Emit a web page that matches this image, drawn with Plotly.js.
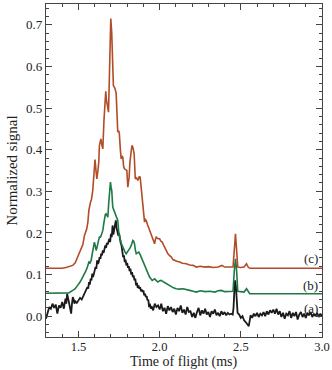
<!DOCTYPE html>
<html><head><meta charset="utf-8">
<script src="https://cdn.plot.ly/plotly-3.0.1.min.js"></script>
<style>html,body{margin:0;padding:0;background:#fff}#chart{width:332px;height:370px}</style>
</head><body><div id="chart"></div>
<script>
// Series (c) - red
const cX = [1.30,1.35,1.40,1.423,1.445,1.465,1.48,1.495,1.505,1.516,1.527,1.537,1.551,1.558,1.564,1.574,1.58,1.588,1.598,1.602,1.608,1.613,1.62,1.625,1.629,1.634,1.638,1.645,1.650,1.657,1.664,1.668,1.672,1.68,1.685,1.692,1.699,1.705,1.711,1.715,1.724,1.732,1.737,1.742,1.748,1.752,1.758,1.763,1.768,1.773,1.778,1.783,1.79,1.798,1.804,1.808,1.812,1.817,1.823,1.829,1.835,1.843,1.85,1.858,1.866,1.874,1.88,1.888,1.897,1.902,1.907,1.912,1.917,1.925,1.932,1.938,1.946,1.954,1.962,1.969,1.974,1.979,1.99,2.0,2.008,2.016,2.023,2.03,2.04,2.051,2.06,2.072,2.082,2.092,2.105,2.123,2.14,2.164,2.185,2.206,2.226,2.25,2.28,2.30,2.33,2.36,2.384,2.40,2.43,2.452,2.46,2.467,2.474,2.481,2.50,2.52,2.535,2.545,2.555,3.0];
const cY = [0.115,0.115,0.115,0.117,0.119,0.122,0.128,0.142,0.148,0.158,0.172,0.194,0.21,0.226,0.254,0.274,0.28,0.302,0.342,0.376,0.35,0.33,0.35,0.37,0.41,0.42,0.426,0.41,0.402,0.47,0.536,0.54,0.52,0.50,0.49,0.6,0.715,0.68,0.56,0.554,0.548,0.536,0.49,0.442,0.446,0.438,0.40,0.378,0.385,0.382,0.36,0.354,0.352,0.35,0.31,0.32,0.334,0.37,0.402,0.41,0.406,0.39,0.33,0.332,0.326,0.335,0.334,0.3,0.27,0.245,0.226,0.232,0.23,0.22,0.212,0.206,0.198,0.19,0.18,0.174,0.185,0.19,0.186,0.186,0.18,0.178,0.172,0.166,0.158,0.15,0.146,0.142,0.136,0.134,0.132,0.13,0.127,0.126,0.123,0.122,0.118,0.12,0.118,0.119,0.117,0.118,0.122,0.118,0.118,0.118,0.16,0.198,0.16,0.118,0.117,0.118,0.126,0.118,0.115,0.115];

// Series (b) - green
const bX = [1.30,1.40,1.44,1.465,1.48,1.495,1.51,1.526,1.535,1.547,1.555,1.564,1.571,1.578,1.585,1.592,1.598,1.603,1.609,1.614,1.619,1.625,1.629,1.635,1.64,1.645,1.65,1.655,1.66,1.665,1.67,1.676,1.681,1.686,1.691,1.697,1.701,1.705,1.711,1.716,1.722,1.727,1.732,1.737,1.742,1.749,1.757,1.763,1.769,1.775,1.78,1.787,1.794,1.802,1.81,1.818,1.825,1.835,1.84,1.845,1.85,1.856,1.864,1.872,1.88,1.886,1.897,1.907,1.917,1.928,1.938,1.946,1.954,1.962,1.969,1.978,1.989,2.0,2.01,2.025,2.04,2.055,2.072,2.085,2.102,2.12,2.144,2.165,2.185,2.206,2.226,2.25,2.28,2.31,2.34,2.36,2.38,2.40,2.43,2.452,2.46,2.467,2.474,2.481,2.50,2.52,2.535,2.545,2.555,3.0];
const bY = [0.055,0.055,0.056,0.062,0.066,0.074,0.082,0.094,0.10,0.11,0.118,0.13,0.128,0.134,0.15,0.162,0.178,0.17,0.158,0.165,0.178,0.184,0.19,0.19,0.194,0.198,0.206,0.22,0.238,0.244,0.246,0.24,0.238,0.27,0.302,0.322,0.31,0.302,0.262,0.256,0.25,0.244,0.238,0.234,0.23,0.198,0.182,0.176,0.17,0.164,0.158,0.154,0.15,0.154,0.158,0.164,0.17,0.182,0.18,0.174,0.16,0.15,0.152,0.154,0.148,0.142,0.13,0.12,0.11,0.102,0.094,0.09,0.086,0.088,0.09,0.086,0.082,0.085,0.086,0.082,0.078,0.074,0.07,0.068,0.066,0.065,0.066,0.063,0.062,0.06,0.058,0.061,0.059,0.06,0.058,0.061,0.062,0.059,0.06,0.06,0.11,0.138,0.11,0.06,0.059,0.058,0.066,0.058,0.054,0.054];

// Series (a) - black
const aX = [1.30,1.31,1.32,1.33,1.34,1.35,1.36,1.37,1.38,1.39,1.40,1.41,1.42,1.425,1.43,1.44,1.45,1.455,1.46,1.465,1.47,1.475,1.48,1.49,1.50,1.51,1.52,1.53,1.54,1.55,1.555,1.56,1.565,1.57,1.575,1.58,1.585,1.59,1.595,1.60,1.605,1.61,1.615,1.62,1.625,1.63,1.635,1.64,1.645,1.65,1.655,1.66,1.665,1.67,1.675,1.68,1.685,1.69,1.695,1.70,1.705,1.71,1.715,1.72,1.725,1.73,1.735,1.74,1.745,1.75,1.755,1.76,1.765,1.77,1.775,1.78,1.785,1.79,1.795,1.80,1.805,1.81,1.815,1.82,1.825,1.83,1.835,1.84,1.845,1.85,1.855,1.86,1.865,1.87,1.875,1.88,1.885,1.89,1.895,1.90,1.905,1.91,1.915,1.92,1.925,1.93,1.935,1.94,1.945,1.95,1.96,1.97,1.98,1.99,2.00,2.01,2.02,2.03,2.04,2.05,2.06,2.07,2.08,2.09,2.10,2.11,2.12,2.13,2.14,2.15,2.16,2.17,2.18,2.19,2.20,2.21,2.22,2.23,2.24,2.25,2.26,2.27,2.28,2.29,2.30,2.31,2.32,2.33,2.34,2.35,2.36,2.37,2.38,2.39,2.40,2.41,2.42,2.43,2.44,2.45,2.455,2.46,2.465,2.47,2.475,2.48,2.49,2.50,2.51,2.52,2.53,2.54,2.549,2.555,2.56,2.57,2.58,2.59,2.60,2.61,2.62,2.63,2.64,2.65,2.66,2.67,2.68,2.69,2.70,2.71,2.72,2.73,2.74,2.75,2.76,2.77,2.78,2.79,2.80,2.81,2.82,2.83,2.84,2.85,2.86,2.87,2.88,2.89,2.90,2.91,2.92,2.93,2.94,2.95,2.96,2.97,2.98,2.99,3.00];
const aY = [-0.006,0.01,0.022,0.018,0.03,0.02,0.028,0.006,0.026,0.02,0.034,0.018,0.042,0.03,0.054,0.036,0.012,0.006,0.03,0.046,0.04,0.03,0.036,0.032,0.038,0.044,0.04,0.048,0.056,0.062,0.07,0.066,0.082,0.076,0.09,0.086,0.102,0.094,0.108,0.11,0.118,0.114,0.134,0.126,0.13,0.142,0.138,0.15,0.146,0.158,0.152,0.162,0.17,0.164,0.176,0.172,0.18,0.186,0.178,0.198,0.19,0.218,0.196,0.212,0.222,0.23,0.212,0.204,0.194,0.2,0.182,0.176,0.17,0.15,0.142,0.146,0.13,0.136,0.122,0.128,0.116,0.12,0.108,0.114,0.1,0.106,0.094,0.098,0.086,0.09,0.074,0.08,0.068,0.074,0.066,0.07,0.06,0.064,0.058,0.062,0.05,0.054,0.046,0.048,0.038,0.04,0.022,0.03,0.018,0.024,0.014,0.03,0.022,0.026,0.016,0.03,0.012,0.02,0.006,0.024,0.014,0.022,0.01,0.018,0.004,0.02,0.012,0.026,0.008,0.016,0.004,0.022,0.01,0.012,-0.002,0.008,-0.004,0.01,0.02,0.002,0.014,0.006,0.018,0.004,0.01,-0.002,0.012,0.006,0.016,0.002,0.008,0.0,0.012,0.004,0.01,0.002,0.008,0.004,0.006,0.004,0.02,0.06,0.086,0.07,0.03,0.008,0.004,-0.004,0.0,-0.01,-0.014,-0.018,-0.024,-0.01,0.002,-0.004,0.006,0.0,0.008,-0.002,0.006,0.002,0.01,0.0,0.012,0.004,0.014,0.008,0.016,0.006,0.018,0.004,0.012,-0.002,0.008,-0.006,0.006,0.002,0.012,-0.004,0.008,0.0,0.01,-0.008,0.004,0.01,-0.002,0.006,-0.004,0.008,0.002,0.01,-0.002,0.006,0.0,0.008,-0.002,0.006,0.0];

const labels = ['(a)','(b)','(c)'];
const labelY = [0.019,0.074,0.139];

const font = '"Liberation Serif", "Times New Roman", serif';
const axisCol = '#444';

const traces = [
  {x:aX, y:aY, mode:'lines', line:{color:'#1a1a1a', width:1.8}, hoverinfo:'skip'},
  {x:bX, y:bY, mode:'lines', line:{color:'#1d7a44', width:1.6}, hoverinfo:'skip'},
  {x:cX, y:cY, mode:'lines', line:{color:'#b24c28', width:1.6}, hoverinfo:'skip'}
];

const axisBase = {
  showline:true, linecolor:axisCol, linewidth:1.2, mirror:'ticks',
  ticks:'inside', ticklen:6, tickcolor:axisCol, tickwidth:1,
  showgrid:false, zeroline:false,
  tickfont:{family:font, size:13, color:'#222'}
};

const layout = {
  width:332, height:370,
  margin:{l:46, r:10, t:4, b:33},
  paper_bgcolor:'#fff', plot_bgcolor:'#fff',
  showlegend:false,
  xaxis: Object.assign({}, axisBase, {
    range:[1.3,3.0], tickvals:[1.5,2.0,2.5,3.0], ticktext:['1.5','2.0','2.5','3.0'],
    ticklabelstandoff:-2,
    tickfont:{family:font, size:12.5, color:'#222'},
    minor:{dtick:0.1, tick0:1.3, ticks:'inside', ticklen:3, tickcolor:axisCol}
  }),
  yaxis: Object.assign({}, axisBase, {
    range:[-0.05,0.75], tickvals:[0,0.1,0.2,0.3,0.4,0.5,0.6,0.7],
    ticktext:['0.0','0.1','0.2','0.3','0.4','0.5','0.6','0.7'],
    minor:{dtick:0.02, tick0:0, ticks:'inside', ticklen:3, tickcolor:axisCol},
    title:{text:'Normalized signal', font:{family:font, size:15, color:'#222'}, standoff:4}
  }),
  annotations: labels.map((t,i)=>({
    x:2.985, y:labelY[i], xref:'x', yref:'y', text:t, showarrow:false,
    xanchor:'right', yanchor:'middle', font:{family:font, size:13, color:'#222'}
  })).concat([{
    x:0.5, y:0, xref:'paper', yref:'paper', text:'Time of flight (ms)',
    showarrow:false, xanchor:'center', yanchor:'bottom', yshift:-34, borderpad:0,
    font:{family:font, size:14, color:'#222'}
  }])
};

Plotly.newPlot('chart', traces, layout, {staticPlot:true, displayModeBar:false});
</script></body></html>
